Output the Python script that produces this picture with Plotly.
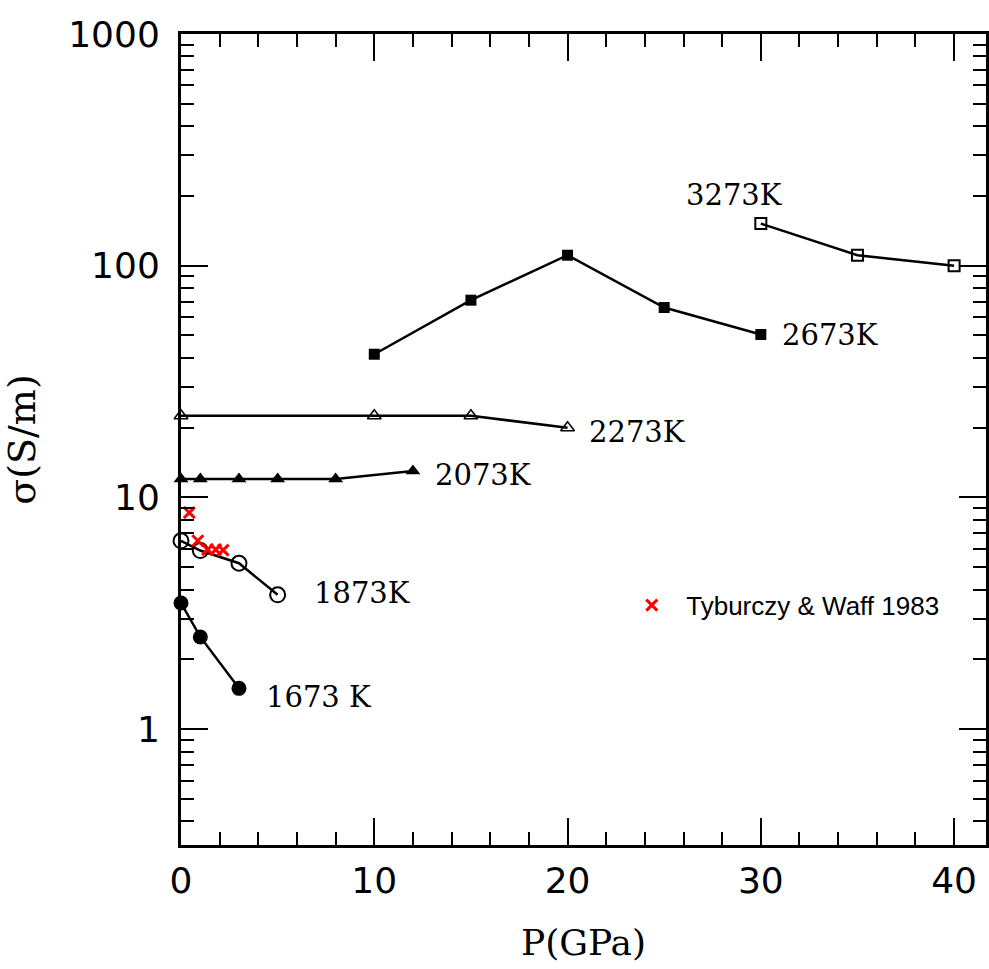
import math
import plotly.graph_objects as go

# ---- data ----
p_1673 = [0, 1, 3]
s_1673 = [3.5, 2.5, 1.5]

p_1873 = [0, 1, 3, 5]
s_1873 = [6.5, 5.9, 5.2, 3.8]

p_2073 = [0, 1, 3, 5, 8, 12]
s_2073 = [12, 12, 12, 12, 12, 13]

p_2273 = [0, 10, 15, 20]
s_2273 = [22.5, 22.5, 22.5, 20]

p_2673 = [10, 15, 20, 25, 30]
s_2673 = [41.5, 71, 111, 66, 50.5]

p_3273 = [30, 35, 40]
s_3273 = [152, 111, 100]

p_tw = [0.43, 0.87, 1.38, 1.8, 2.18]
s_tw = [8.6, 6.5, 5.95, 5.95, 5.92]
tw_name = "Tyburczy & Waff 1983"

labels = ["3273K", "2673K", "2273K", "2073K", "1873K", "1673 K"]
label_x = [26.0, 31.0, 21.0, 13.05, 6.78, 4.29]
label_y = [201, 50.2, 19.2, 12.5, 3.87, 1.38]

x_ticks = [0, 10, 20, 30, 40]
y_ticks = [1, 10, 100, 1000]
y_ticktext = ["1", "10", "100", "1000"]
y_minor = [m * d for d in (0.1, 1, 10, 100) for m in range(2, 10) if m * d >= 0.35]

fig = go.Figure()

def add_series(x, y, symbol, size, lw=2):
    fig.add_trace(go.Scatter(
        x=x, y=y, mode="lines+markers", showlegend=False, cliponaxis=False,
        line=dict(color="black", width=2.5),
        marker=dict(symbol=symbol, size=size, color="black",
                    line=dict(color="black", width=lw)),
    ))

add_series(p_1673, s_1673, "circle", 15, 0)
add_series(p_1873, s_1873, "circle-open", 15, 2)
add_series(p_2073, s_2073, "triangle-up", 13, 0)
add_series(p_2273, s_2273, "triangle-up-open", 12, 1.5)
add_series(p_2673, s_2673, "square", 11, 0)
add_series(p_3273, s_3273, "square-open", 11, 2)

fig.add_trace(go.Scatter(
    x=p_tw, y=s_tw, mode="markers", name="\u00a0\u00a0" + tw_name, cliponaxis=False,
    marker=dict(symbol="x-thin", size=11, color="red", line=dict(color="red", width=3)),
))

# annotations on a log axis take log10 positions
for t, lx, ly in zip(labels, label_x, label_y):
    fig.add_annotation(x=lx, y=math.log10(ly), text=t, showarrow=False,
                       xanchor="left", yanchor="middle",
                       font=dict(family="DejaVu Serif", size=29, color="black"))

axis_common = dict(
    showline=True, linecolor="black", linewidth=3, mirror="ticks",
    ticks="inside", tickcolor="black", tickwidth=2, ticklen=27,
    showgrid=False, zeroline=False,
    tickfont=dict(family="DejaVu Sans", size=36, color="black"),
)

fig.update_xaxes(
    **axis_common, range=[0, 41.65], tickvals=x_ticks, ticklabelstandoff=2,
    minor=dict(ticks="inside", dtick=2, tick0=0, ticklen=13, tickwidth=2, tickcolor="black", showgrid=False),
    title=dict(text="P(GPa)", font=dict(family="DejaVu Serif", size=36, color="black"), standoff=30),
)
fig.update_yaxes(
    **axis_common, type="log", range=[-0.5, 3], tickvals=y_ticks, ticktext=y_ticktext,
    ticklabelstandoff=11,
    minor=dict(ticks="inside", tickvals=y_minor, ticklen=13, tickwidth=2, tickcolor="black", showgrid=False),
    title=dict(text="σ(S/m)", font=dict(family="DejaVu Serif", size=38, color="black"), standoff=26),
)

fig.update_layout(
    width=989, height=969,
    margin=dict(l=181, r=0, t=34, b=124),
    paper_bgcolor="white", plot_bgcolor="white",
    showlegend=True,
    legend=dict(x=0.56, y=0.2956, xanchor="left", yanchor="middle",
                bgcolor="rgba(0,0,0,0)", borderwidth=0,
                font=dict(family="Liberation Sans", size=26, color="black")),
)

fig.write_html("out.html")
